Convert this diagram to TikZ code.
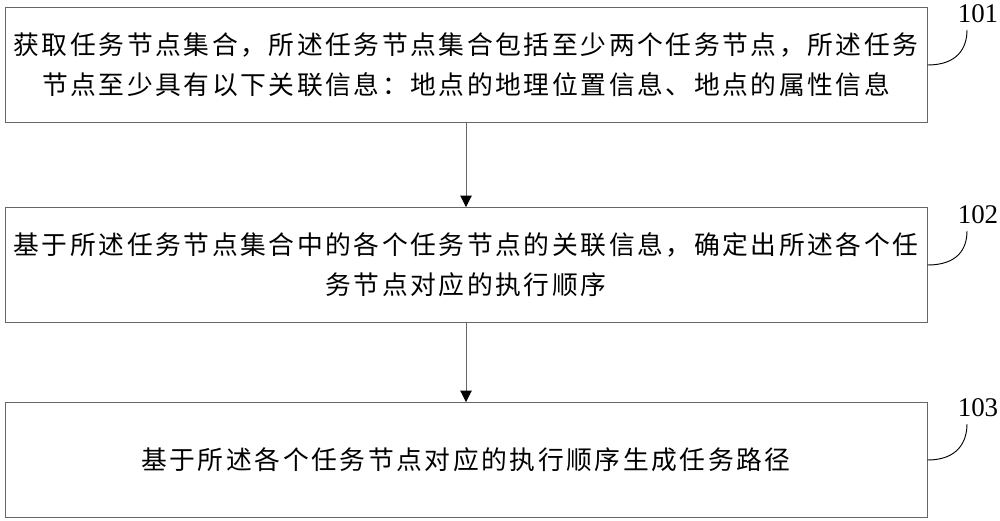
\documentclass[tikz,border=0pt]{standalone}
\usepackage{fontspec}
\setmainfont{Liberation Serif}
\newfontfamily\cjk{Noto Sans CJK SC}[LetterSpace=10]
\usepackage{tikz}
\usetikzlibrary{positioning, calc, arrows.meta}

\tikzset{
    stepbox/.style={draw=gray!80!black, line width=0.8pt, minimum width=27.66cm,
        minimum height=3.45cm, align=center, inner sep=0pt,
        font=\cjk\fontsize{22pt}{34pt}\selectfont},
    steplabel/.style={font=\fontsize{23pt}{23pt}\selectfont, inner sep=0pt},
    leader/.style={draw=black, line width=0.8pt},
    flow/.style={draw=gray!80!black, line width=0.8pt, -{Triangle[width=0.34cm, length=0.34cm, color=black]}}
}

\begin{document}
\begin{tikzpicture}[x=0.03cm, y=-0.03cm]
    % Canvas of the reference picture
    \useasboundingbox (0,0) rectangle (1000,520);

    % Step boxes, top to bottom
    \node[stepbox] (box1) at (466,65) {获取任务节点集合，所述任务节点集合包括至少两个任务节点，所述任务\\节点至少具有以下关联信息：地点的地理位置信息、地点的属性信息};
    \node[stepbox] (box2) at (466,265) {基于所述任务节点集合中的各个任务节点的关联信息，确定出所述各个任\\务节点对应的执行顺序};
    \node[stepbox] (box3) at (466,460) {基于所述各个任务节点对应的执行顺序生成任务路径};

    % Arrows between the steps
    \draw[flow] (box1) -- (box2);
    \draw[flow] (box2) -- (box3);

    % Step numbers with their leader curves
    \node[steplabel] (lab1) at (978,14) {101};
    \node[steplabel] (lab2) at (978,215) {102};
    \node[steplabel] (lab3) at (978,408) {103};

    \draw[leader] (box1.east) .. controls +(30,0) and +(0,18) .. ([xshift=-0.33cm, yshift=-0.2cm]lab1.south);
    \draw[leader] (box2.east) .. controls +(30,0) and +(0,18) .. ([xshift=-0.33cm, yshift=-0.2cm]lab2.south);
    \draw[leader] (box3.east) .. controls +(30,0) and +(0,18) .. ([xshift=-0.33cm, yshift=-0.2cm]lab3.south);
\end{tikzpicture}
\end{document}
